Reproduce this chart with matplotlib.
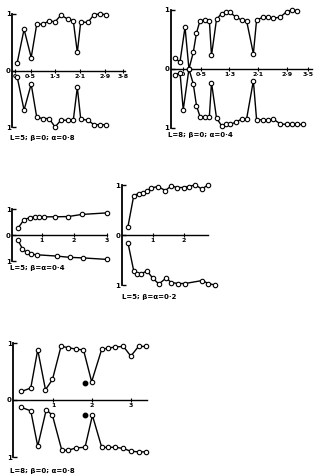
import matplotlib
matplotlib.use("Agg")
import matplotlib.pyplot as plt

# ---------------- data ----------------
# Panel 1: L=5; beta=0; alpha=0.8
p1_x = [0.07, 0.29, 0.52, 0.70, 0.91, 1.10, 1.29, 1.48, 1.70, 1.88, 2.01, 2.12, 2.35, 2.55, 2.74, 2.94]
p1_top = [0.14, 0.73, 0.23, 0.82, 0.82, 0.88, 0.86, 0.98, 0.91, 0.88, 0.32, 0.86, 0.85, 0.99, 1.0, 0.99]
p1_bot = [-0.12, -0.70, -0.24, -0.83, -0.85, -0.85, -1.0, -0.88, -0.88, -0.88, -0.30, -0.86, -0.88, -0.96, -0.96, -0.96]
p1_ticks = [0, 0.5, 1.3, 2.1, 2.9, 3.5]
p1_ticklabels = ["0", "0·5", "1·3", "2·1", "2·9", "3·8"]

# Panel 2: L=8; beta=0; alpha=0.4
p2_xt = [-0.22, -0.08, 0.06, 0.17, 0.29, 0.38, 0.48, 0.62, 0.74, 0.80, 0.94, 1.08, 1.20, 1.32, 1.48, 1.64, 1.78,
         1.97, 2.06, 2.25, 2.39, 2.53, 2.72, 2.90, 3.04, 3.18]
p2_top = [0.18, 0.12, 0.71, 0.0, 0.28, 0.61, 0.82, 0.83, 0.82, 0.23, 0.84, 0.94, 0.97, 0.96, 0.88, 0.83, 0.82,
          0.26, 0.83, 0.88, 0.88, 0.86, 0.88, 0.97, 1.0, 0.99]
p2_xb = [-0.22, -0.08, 0.01, 0.17, 0.29, 0.38, 0.48, 0.62, 0.74, 0.80, 0.94, 1.08, 1.20, 1.32, 1.48, 1.64, 1.78,
         1.97, 2.06, 2.25, 2.39, 2.53, 2.72, 2.90, 3.04, 3.18, 3.35]
p2_bot = [-0.11, -0.06, -0.69, 0.0, -0.25, -0.62, -0.81, -0.81, -0.81, -0.23, -0.83, -0.96, -0.94, -0.94, -0.90,
          -0.85, -0.85, -0.20, -0.86, -0.86, -0.87, -0.85, -0.93, -0.94, -0.94, -0.94, -0.94]
p2_ticks = [0, 0.5, 1.3, 2.1, 2.9, 3.5]
p2_ticklabels = ["0", "0·5", "1·3", "2·1", "2·9", "3·5"]

# Panel 3: L=5; beta=alpha=0.4
p3_xt = [0.28, 0.46, 0.64, 0.79, 0.93, 1.08, 1.41, 1.82, 2.23, 3.0]
p3_top = [0.27, 0.59, 0.67, 0.70, 0.70, 0.70, 0.70, 0.71, 0.79, 0.85]
p3_xb = [0.28, 0.41, 0.54, 0.69, 0.85, 1.46, 1.87, 2.26, 3.02]
p3_bot = [-0.21, -0.53, -0.67, -0.74, -0.76, -0.81, -0.86, -0.88, -0.94]
p3_ticks = [1, 2, 3]
p3_ticklabels = ["1", "2", "3"]

# Panel 4: L=5; beta=alpha=0.2
p4_xt = [0.2, 0.39, 0.55, 0.68, 0.82, 0.96, 1.17, 1.41, 1.6, 1.79, 2.0, 2.16, 2.38, 2.59, 2.79]
p4_top = [0.16, 0.79, 0.83, 0.84, 0.89, 0.94, 0.97, 0.89, 0.98, 0.95, 0.95, 0.97, 1.0, 0.92, 1.0]
p4_xb = [0.2, 0.39, 0.5, 0.64, 0.82, 1.0, 1.2, 1.44, 1.6, 1.82, 2.05, 2.61, 2.79, 3.02]
p4_bot = [-0.15, -0.72, -0.77, -0.77, -0.72, -0.86, -0.98, -0.86, -0.95, -0.97, -0.97, -0.91, -0.97, -1.0]
p4_ticks = [1, 2]
p4_ticklabels = ["1", "2"]

# Panel 5: L=8; beta=0; alpha=0.8
p5_xt = [0.18, 0.42, 0.6, 0.8, 0.98, 1.2, 1.39, 1.59, 1.78, 1.99, 2.25, 2.42, 2.6, 2.81, 3.0, 3.2, 3.4]
p5_top = [0.15, 0.21, 0.88, 0.18, 0.36, 0.94, 0.92, 0.89, 0.88, 0.32, 0.89, 0.91, 0.93, 0.94, 0.77, 0.94, 0.94]
p5_xb = [0.18, 0.42, 0.6, 0.82, 0.98, 1.22, 1.39, 1.59, 1.82, 2.01, 2.25, 2.42, 2.6, 2.81, 3.0, 3.2, 3.4]
p5_bot = [-0.13, -0.19, -0.81, -0.17, -0.27, -0.88, -0.88, -0.84, -0.83, -0.27, -0.83, -0.83, -0.83, -0.85,
          -0.90, -0.91, -0.91]
p5_dot_x = [1.82, 1.82]
p5_dot_y = [0.30, -0.26]
p5_ticks = [1, 2, 3]
p5_ticklabels = ["1", "2", "3"]

labels = ["L=5; β=0; α=0·8", "L=8; β=0; α=0·4", "L=5; β=α=0·4", "L=5; β=α=0·2", "L=8; β=0; α=0·8"]

# ---------------- figure ----------------
W, H = 320, 476
fig = plt.figure(figsize=(W / 100, H / 100), dpi=100)
fig.patch.set_facecolor("white")


def make_ax(left, right, top, bottom, xlim):
    ax = fig.add_axes([left / W, 1 - bottom / H, (right - left) / W, (bottom - top) / H])
    ax.set_xlim(*xlim)
    ax.set_ylim(-1.0, 1.0)
    ax.patch.set_alpha(0)
    for s in ("top", "right"):
        ax.spines[s].set_visible(False)
    ax.spines["bottom"].set_position(("data", 0))
    ax.spines["left"].set_linewidth(1.3)
    ax.spines["bottom"].set_linewidth(1.0)
    ax.set_yticks([-1, 0, 1])
    ax.set_yticklabels(["1", "0", "1"], fontsize=5, fontweight="bold")
    ax.tick_params(axis="y", direction="in", length=3, width=1.0, pad=1)
    ax.tick_params(axis="x", direction="inout", length=3, width=0.8, pad=1, labelsize=4.5)
    return ax


def series(ax, x, y):
    ax.plot(x, y, "-", color="black", lw=1.0, marker="o", ms=3.2, mfc="white", mec="black", mew=0.8,
            clip_on=False, zorder=3)


panels = [
    (12.3, 125.0, 14, 127, (-0.09, 3.55), p1_x, p1_top, p1_x, p1_bot, p1_ticks, p1_ticklabels),
    (170.7, 311.7, 10, 128, (-0.34, 3.6), p2_xt, p2_top, p2_xb, p2_bot, p2_ticks, p2_ticklabels),
    (12.3, 107.3, 209, 261, (0.1, 3.02), p3_xt, p3_top, p3_xb, p3_bot, p3_ticks, p3_ticklabels),
    (121.7, 208.3, 185, 285, (0.0, 2.8), p4_xt, p4_top, p4_xb, p4_bot, p4_ticks, p4_ticklabels),
    (13.3, 146.7, 343, 457, (-0.03, 3.41), p5_xt, p5_top, p5_xb, p5_bot, p5_ticks, p5_ticklabels),
]

axes = []
for (l, r, t, b, xl, xt, yt, xb, yb, tk, tl) in panels:
    ax = make_ax(l, r, t, b, xl)
    series(ax, xt, yt)
    series(ax, xb, yb)
    ax.set_xticks(tk)
    ax.set_xticklabels(tl, fontweight="bold")
    axes.append(ax)

# separate filled dots in panel 5
axes[4].plot(p5_dot_x, p5_dot_y, "o", color="black", ms=3.2, clip_on=False, zorder=4)

label_pos = [(10, 138), (168, 135), (10, 268), (122, 297), (10, 471)]
for (px, py), txt in zip(label_pos, labels):
    fig.text(px / W, 1 - py / H, txt, fontsize=5, fontweight="bold", va="center", ha="left")

fig.savefig("out.png", dpi=100, facecolor="white")
